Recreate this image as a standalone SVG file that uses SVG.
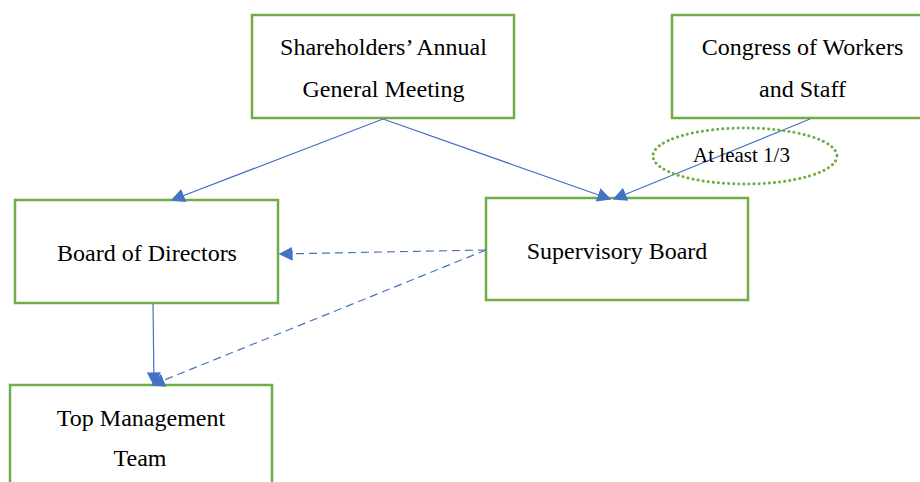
<svg xmlns="http://www.w3.org/2000/svg" width="920" height="482" viewBox="0 0 920 482">
  <defs>
    <marker id="arrow" viewBox="0 0 10 10" refX="9" refY="5" markerWidth="14" markerHeight="14" markerUnits="userSpaceOnUse" orient="auto">
      <path d="M0,0 L10,5 L0,10 Z" fill="#4472C4"/>
    </marker>
    <style>
      .box { fill: #FFFFFF; stroke: #70AD47; stroke-width: 2.5; }
      .label { font-family: "Liberation Serif", "Times New Roman", serif; font-size: 24px; fill: #000000; text-anchor: middle; }
      .link { fill: none; stroke: #4472C4; stroke-width: 1.2; marker-end: url(#arrow); }
      .dashed { stroke-dasharray: 8 5; }
      .note { fill: none; stroke: #70AD47; stroke-width: 3; stroke-dasharray: 0.1 5; stroke-linecap: round; }
    </style>
  </defs>
  <rect width="920" height="482" fill="#FFFFFF"/>

  <g id="shareholders">
    <rect class="box" x="252" y="15" width="262" height="103"/>
    <text class="label" x="383.5" y="55">Shareholders’ Annual</text>
    <text class="label" x="383.5" y="97">General Meeting</text>
  </g>

  <g id="congress">
    <rect class="box" x="672" y="15" width="262" height="103"/>
    <text class="label" x="802.5" y="55">Congress of Workers</text>
    <text class="label" x="802.5" y="97">and Staff</text>
  </g>

  <g id="board">
    <rect class="box" x="15" y="200" width="263" height="103"/>
    <text class="label" x="147" y="261">Board of Directors</text>
  </g>

  <g id="supervisory">
    <rect class="box" x="486" y="198" width="262" height="102"/>
    <text class="label" x="617" y="259">Supervisory Board</text>
  </g>

  <g id="management">
    <rect class="box" x="10" y="385" width="262" height="110"/>
    <text class="label" x="141" y="426">Top Management</text>
    <text class="label" x="140" y="466">Team</text>
  </g>

  <g id="connectors">
    <line class="link" x1="383" y1="119" x2="172" y2="200"/>
    <line class="link" x1="383" y1="119" x2="610" y2="199"/>
    <line class="link" x1="810" y1="119" x2="614" y2="199"/>
    <line class="link dashed" x1="486" y1="250" x2="280" y2="254"/>
    <line class="link dashed" x1="486" y1="250" x2="152" y2="385"/>
    <line class="link" x1="153" y1="304" x2="154" y2="385"/>
  </g>

  <g id="share-note">
    <ellipse class="note" cx="745" cy="156" rx="92" ry="28"/>
    <text x="741.5" y="162" font-family="Liberation Serif, Times New Roman, serif" font-size="21" text-anchor="middle" fill="#000000">At least 1/3</text>
  </g>
</svg>
